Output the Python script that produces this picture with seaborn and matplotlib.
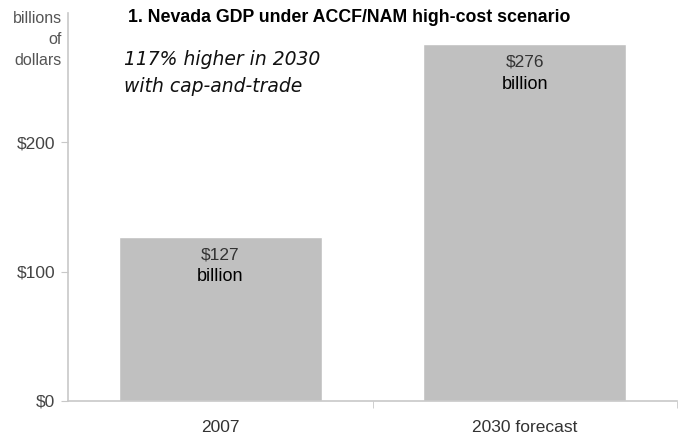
import matplotlib
matplotlib.use("Agg")
import matplotlib.pyplot as plt
import seaborn as sns
import pandas as pd

# Data
categories = ["2007", "2030 forecast"]
gdp_values = [127, 276]
value_labels = ["$127", "$276"]
y_ticks = [0, 100, 200]
y_tick_labels = ["$0", "$100", "$200"]

sns.set_style("white")
plt.rcParams['font.family'] = ['Liberation Sans', 'DejaVu Sans']

df = pd.DataFrame({"category": categories, "gdp": gdp_values})

fig = plt.figure(figsize=(6.82, 4.38), dpi=100)
ax = fig.add_axes([0.0997, 0.0845, 0.893, 0.8855])

sns.barplot(data=df, x="category", y="gdp", color="#c0c0c0", saturation=1,
            width=0.666, ax=ax)

ax.set_xlim(-0.5, 1.5)
ax.set_ylim(0, 300)
ax.set_xlabel("")
ax.set_ylabel("")

axis_col = "#c8c8c8"
for side in ["top", "right"]:
    ax.spines[side].set_visible(False)
for side in ["left", "bottom"]:
    ax.spines[side].set_color(axis_col)
    ax.spines[side].set_linewidth(1.2)

ax.set_yticks(y_ticks)
ax.set_yticklabels(y_tick_labels, fontsize=12.5, color="#444444")
ax.tick_params(axis="y", left=True, length=5, color=axis_col, pad=4)

ax.set_xticks([0, 1])
ax.set_xticklabels(categories, fontsize=12.5, color="#333333")
ax.tick_params(axis="x", bottom=False, pad=10)
ax.set_xticks([0.5, 1.5], minor=True)
ax.tick_params(axis="x", which="minor", bottom=True, length=5, color=axis_col)

# value labels inside bars
for i, (v, lab) in enumerate(zip(gdp_values, value_labels)):
    ax.annotate(lab, (i, v), xytext=(0, -18), textcoords="offset pixels",
                ha="center", va="center", fontsize=12.5, color="#333333")
    ax.annotate("billion", (i, v), xytext=(0, -40), textcoords="offset pixels",
                ha="center", va="center", fontsize=13, color="black")

# y unit label
fig.text(62 / 682, 1 - 11 / 438, "billions\nof\ndollars", ha="right", va="top",
         fontsize=11.5, color="#555555", linespacing=1.5)

# title
fig.text(128 / 682, 1 - 18 / 438, "1. Nevada GDP under ACCF/NAM high-cost scenario",
         ha="left", va="center", fontsize=12.8, fontweight="bold", color="black")

# annotation
fig.text(124 / 682, 1 - 73 / 438, "117% higher in 2030\nwith cap-and-trade",
         ha="left", va="center", fontsize=13.5, style="italic", color="#111111",
         linespacing=1.5, family=['DejaVu Sans'])

fig.savefig("out.png", dpi=100)
